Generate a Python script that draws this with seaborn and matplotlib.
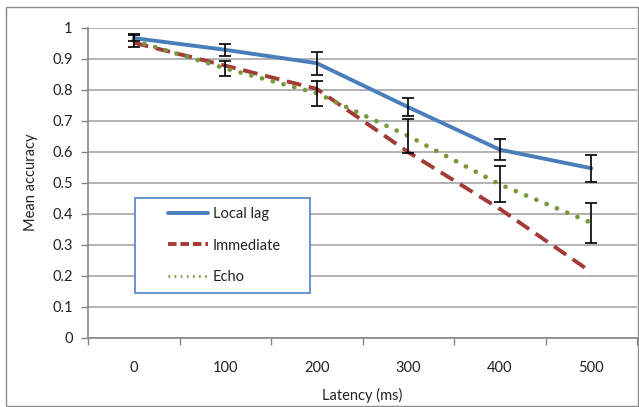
import matplotlib
matplotlib.use("Agg")
import matplotlib.pyplot as plt
import seaborn as sns
import pandas as pd
import numpy as np
from matplotlib.legend_handler import HandlerLine2D
from matplotlib.lines import Line2D
from matplotlib.patches import Rectangle

# ---- data ----
latency = ["0", "100", "200", "300", "400", "500"]
local_lag = [0.966, 0.928, 0.885, 0.743, 0.606, 0.546]
immediate = [0.951, 0.877, 0.802, 0.598, 0.415, 0.211]
echo = [0.958, 0.868, 0.788, 0.650, 0.494, 0.370]
local_lag_err = [0.010, 0.020, 0.037, 0.028, 0.035, 0.044]
echo_err = [0.021, 0.025, 0.041, 0.056, 0.058, 0.065]
y_ticks = [0, 0.1, 0.2, 0.3, 0.4, 0.5, 0.6, 0.7, 0.8, 0.9, 1.0]

sns.set_style("white")
plt.rcParams["font.family"] = ["Lato", "DejaVu Sans"]

W, H = 639, 407
fig = plt.figure(figsize=(W / 100, H / 100), dpi=100)
ax = fig.add_axes([88 / W, (H - 337.5) / H, 549 / W, 310 / H])

pos = np.arange(len(latency))
df = pd.DataFrame({"pos": pos, "Local lag": local_lag, "Immediate": immediate, "Echo": echo})

blue = "#4A7EBB"
red = "#A33B37"
green = "#77993A"

sns.lineplot(data=df, x="pos", y="Local lag", ax=ax, color=blue, label="Local lag")
l1 = ax.lines[-1]
l1.set_linewidth(2.8)
sns.lineplot(data=df, x="pos", y="Immediate", ax=ax, color=red, label="Immediate")
l2 = ax.lines[-1]
l2.set_linewidth(2.8)
l2.set_linestyle((0, (3.8, 2.0)))
sns.lineplot(data=df, x="pos", y="Echo", ax=ax, color=green, label="Echo")
l3 = ax.lines[-1]
l3.set_linewidth(3.4)
l3.set_linestyle((0, (0.01, 2.35)))
l3.set_dash_capstyle("round")

# error bars
ax.errorbar(pos, local_lag, yerr=local_lag_err, fmt="none", ecolor="black",
            elinewidth=1.2, capsize=4, capthick=1.2, zorder=5)
ax.errorbar(pos, echo, yerr=echo_err, fmt="none", ecolor="black",
            elinewidth=1.2, capsize=4, capthick=1.2, zorder=5)

ax.set_xlim(-0.5, len(latency) - 0.5)
ax.set_ylim(0, 1)
ax.set_yticks(y_ticks)
ax.set_yticklabels(["0", "0.1", "0.2", "0.3", "0.4", "0.5", "0.6", "0.7", "0.8", "0.9", "1"])
ax.set_xticks(pos)
ax.set_xticklabels(latency)
ax.set_xticks(np.arange(-0.5, len(latency), 1.0), minor=True)
ax.tick_params(axis="x", which="major", length=0, pad=17, labelsize=10.5, colors="#222222")
ax.tick_params(axis="x", which="minor", length=5, width=1, color="#868686", direction="out", bottom=True)
ax.tick_params(axis="y", which="major", length=5, width=1, color="#868686", direction="out",
               left=True, pad=6, labelsize=10.5, labelcolor="#222222")

ax.grid(axis="y", color="#A6A6A6", linewidth=1.2)
ax.grid(axis="x", visible=False)
ax.set_axisbelow(True)
for s in ["top", "right"]:
    ax.spines[s].set_visible(False)
for s in ["left", "bottom"]:
    ax.spines[s].set_color("#868686")
    ax.spines[s].set_linewidth(1.2)

ax.set_xlabel("Latency (ms)", fontsize=10.5, color="#222222", labelpad=9)
ax.set_ylabel("Mean accuracy", fontsize=10.5, color="#222222", labelpad=10)


class OffsetHandler(HandlerLine2D):
    def __init__(self, offset, **kw):
        super().__init__(**kw)
        self.offset = offset

    def create_artists(self, legend, orig_handle, xdescent, ydescent, width, height, fontsize, trans):
        return super().create_artists(legend, orig_handle, xdescent - self.offset, ydescent,
                                      width - self.offset, height, fontsize, trans)


handles = [l1, l2, l3]
leg_handles = []
for h in handles:
    nh = Line2D([], [], color=h.get_color(), linewidth=h.get_linewidth())
    nh.set_linestyle(h.get_linestyle())
    leg_handles.append(nh)
leg_handles[1].set_linestyle((0, (2.2, 1.0)))
leg_handles[2].set_linewidth(2.0)
leg_handles[2].set_linestyle((0, (0.6, 1.6)))

ax.get_legend().remove()
x0 = (134.5 - 88) / 549
x1 = (310 - 88) / 549
ytop = (337.5 - 198) / 310
ybot = (337.5 - 293) / 310
leg = ax.legend(leg_handles, ["Local lag", "Immediate", "Echo"],
                loc="upper left", bbox_to_anchor=(x0, ybot, x1 - x0, ytop - ybot), mode="expand",
                borderaxespad=0, frameon=True, fancybox=False, shadow=False,
                handlelength=4.45, handletextpad=0.3, labelspacing=1.22, borderpad=0.6,
                fontsize=10.5, labelcolor="#222222",
                handler_map={Line2D: OffsetHandler(18)})
fr = leg.get_frame()
fr.set_edgecolor("#5B8CC9")
fr.set_linewidth(1.3)
fr.set_facecolor("white")
fr.set_alpha(1)

# outer chart border
fig.patches.append(Rectangle((6 / W, 1 / H), 632 / W, 399 / H, transform=fig.transFigure,
                             fill=False, edgecolor="#8C8C8C", linewidth=1.0))

fig.savefig("out.png", dpi=100)
